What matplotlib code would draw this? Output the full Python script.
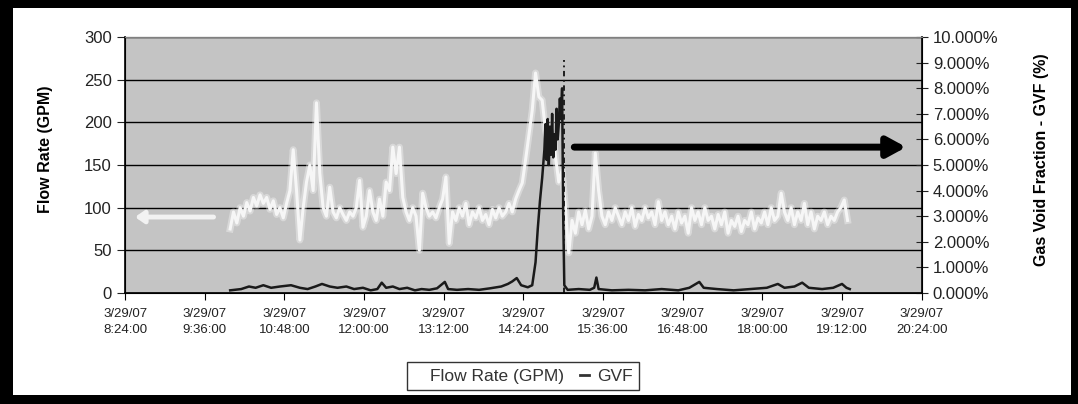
import numpy as np
import matplotlib
matplotlib.use("Agg")
import matplotlib.pyplot as plt
from matplotlib.patches import Rectangle
from matplotlib.lines import Line2D

plt.rcParams["font.family"] = ["Liberation Sans", "DejaVu Sans"]

# flow rate logged every 3 minutes, time counted in minutes after 3/29/07 8:24
flow_start = 95
flow_step = 3
flow_gpm = [
    75, 95, 82, 100, 90, 106, 96, 112, 102, 115,
    105, 112, 98, 108, 92, 100, 88, 105, 120, 168,
    120, 62, 100, 130, 150, 120, 223, 140, 100, 90,
    124, 95, 88, 100, 92, 85, 95, 90, 100, 132,
    77, 90, 120, 95, 85, 110, 90, 130, 120, 171,
    140, 171, 112, 95, 85, 100, 90, 50, 117, 100,
    90, 95, 88, 100, 110, 136, 58, 95, 85, 100,
    90, 105, 80, 95, 88, 100, 85, 92, 80, 98,
    88, 100, 90, 95, 105, 95, 110, 120, 129, 156,
    185, 214, 258, 230, 226, 190, 176, 200, 160, 130,
    144, 100, 47, 85, 70, 95, 80, 97, 75, 90,
    164, 120, 90, 80, 95, 85, 100, 90, 80, 95,
    85, 100, 78, 92, 85, 100, 88, 95, 80, 107,
    85, 95, 80, 90, 75, 95, 82, 90, 70, 100,
    85, 95, 80, 100, 85, 90, 75, 92, 80, 95,
    70, 85, 78, 90, 72, 85, 80, 95, 75, 88,
    82, 95, 80, 100, 85, 90, 117, 95, 85, 100,
    80, 95, 85, 105, 80, 95, 75, 90, 85, 95,
    80, 90, 85, 95, 100, 109, 85,
]

# gas void fraction (%), minutes after 8:24
gvf_min = [
    95, 105, 112, 118, 125, 132, 140, 150, 158, 165, 172, 178, 185, 192,
    200, 207, 215, 222, 228, 232, 236, 242, 248, 255, 262, 268, 275, 282,
    289, 292, 300, 310, 320, 330, 340, 346, 350, 354, 358, 364, 368, 371,
    373, 375, 377, 379, 380, 381, 382, 383, 384, 385, 386, 387, 388, 389,
    390, 391, 392, 393, 394, 395, 396, 397, 400, 410, 420, 424, 426, 428,
    440, 455, 470, 485, 500, 510, 519, 523, 535, 550, 565, 580, 590, 596,
    605, 612, 618, 630, 640, 648, 652, 655,
]
gvf_pct = [
    0.10, 0.15, 0.25, 0.20, 0.30, 0.20, 0.25, 0.30, 0.20, 0.15, 0.25, 0.35, 0.25, 0.20,
    0.25, 0.15, 0.20, 0.10, 0.15, 0.40, 0.20, 0.25, 0.15, 0.20, 0.10, 0.15, 0.12, 0.18,
    0.43, 0.15, 0.12, 0.15, 0.12, 0.18, 0.25, 0.35, 0.45, 0.58, 0.30, 0.22, 0.30, 1.20,
    2.50, 3.60, 4.50, 5.60, 6.60, 5.20, 6.80, 5.00, 6.50, 5.40, 7.00, 5.30, 6.20, 5.60,
    7.20, 6.00, 6.60, 7.60, 6.80, 8.00, 3.00, 0.30, 0.12, 0.15, 0.12, 0.20, 0.60, 0.15,
    0.10, 0.12, 0.10, 0.15, 0.10, 0.20, 0.43, 0.20, 0.15, 0.10, 0.15, 0.20, 0.35, 0.20,
    0.25, 0.40, 0.20, 0.15, 0.20, 0.35, 0.20, 0.15,
]

event_min = 397  # gas slug marker line
tick_labels = ["3/29/07\n8:24:00", "3/29/07\n9:36:00", "3/29/07\n10:48:00",
               "3/29/07\n12:00:00", "3/29/07\n13:12:00", "3/29/07\n14:24:00",
               "3/29/07\n15:36:00", "3/29/07\n16:48:00", "3/29/07\n18:00:00",
               "3/29/07\n19:12:00", "3/29/07\n20:24:00"]

flow_min = flow_start + flow_step * np.arange(len(flow_gpm))

fig = plt.figure(figsize=(10.78, 4.04), dpi=100)
ax = fig.add_axes([0.116, 0.275, 0.739, 0.633])
ax.set_facecolor("#c4c4c4")
ax2 = ax.twinx()

ax.set_xlim(0, 720)
ax.set_ylim(0, 300)
ax.set_yticks(range(0, 301, 50))
ax.set_xticks(range(0, 721, 72))
ax.set_xticklabels(tick_labels, fontsize=9.5, color="#222222", linespacing=1.4)
ax.tick_params(axis="y", labelsize=12, colors="#222222", direction="out", length=6)
ax.tick_params(axis="x", direction="out", length=5, pad=6)
ax.grid(axis="y", color="black", linewidth=1.0)
ax.set_axisbelow(True)

# soft halo then core line, the original is a blurry scan
ax.plot(flow_min, flow_gpm, color="white", linewidth=5, alpha=0.35, zorder=3)
ax.plot(flow_min, flow_gpm, color="#f6f6f6", linewidth=2.2, zorder=3)
ax.plot([event_min, event_min], [0, 273], color="#111111", linewidth=1.3,
        linestyle=(0, (3, 2, 1, 2)), zorder=4)

ax2.set_ylim(0, 10)
ax2.set_yticks(range(0, 11))
ax2.set_yticklabels([f"{v:.3f}%" for v in range(0, 11)])
ax2.tick_params(axis="y", labelsize=12, colors="#222222", direction="inout", length=9)
ax2.plot(gvf_min, gvf_pct, color="#1a1a1a", linewidth=1.8, zorder=3)

# arrows pointing each series to its axis
ax.annotate("", xy=(9, 89), xytext=(80, 89),
            arrowprops=dict(arrowstyle="-|>,head_length=0.5,head_width=0.35",
                            color="#f2f2f2", lw=3.5, shrinkA=0, shrinkB=0), zorder=5)
ax2.annotate("", xy=(706, 5.7), xytext=(406, 5.7),
             arrowprops=dict(arrowstyle="-|>,head_length=1.1,head_width=0.6",
                             color="black", lw=5, shrinkA=0, shrinkB=0), zorder=5)

for spine in ["left", "bottom", "right"]:
    ax2.spines[spine].set_color("black")
    ax2.spines[spine].set_linewidth(1.2)
ax2.spines["top"].set_color("#808080")

ax.set_ylabel("Flow Rate (GPM)", fontsize=11.5, fontweight="bold")
ax.yaxis.set_label_coords(-0.091, 0.56)
ax2.set_ylabel("Gas Void Fraction - GVF (%)", fontsize=11.5, fontweight="bold")
ax2.yaxis.set_label_coords(1.141, 0.52)

handles = [Line2D([], [], color="white", linewidth=2),
           Line2D([], [], color="#333333", linewidth=2)]
leg = fig.legend(handles, ["Flow Rate (GPM)", "GVF"], loc="center",
                 bbox_to_anchor=(0.485, 0.069), ncol=2, fontsize=12.5,
                 handlelength=0.5, handletextpad=0.5, columnspacing=0.9,
                 fancybox=False, frameon=True, borderpad=0.35)
leg.get_frame().set_edgecolor("black")
leg.get_frame().set_linewidth(1.0)
for t in leg.get_texts():
    t.set_color("#333333")

# black outer frame of the picture
W, H = 1078, 404
for x0, y0, w, h in [(0, 0, W, 9), (0, H - 8, W, 8), (0, 0, 13, H), (W - 7, 0, 7, H)]:
    fig.add_artist(Rectangle((x0 / W, y0 / H), w / W, h / H, transform=fig.transFigure,
                             facecolor="black", edgecolor="none"))

fig.savefig("out.png", dpi=100)
